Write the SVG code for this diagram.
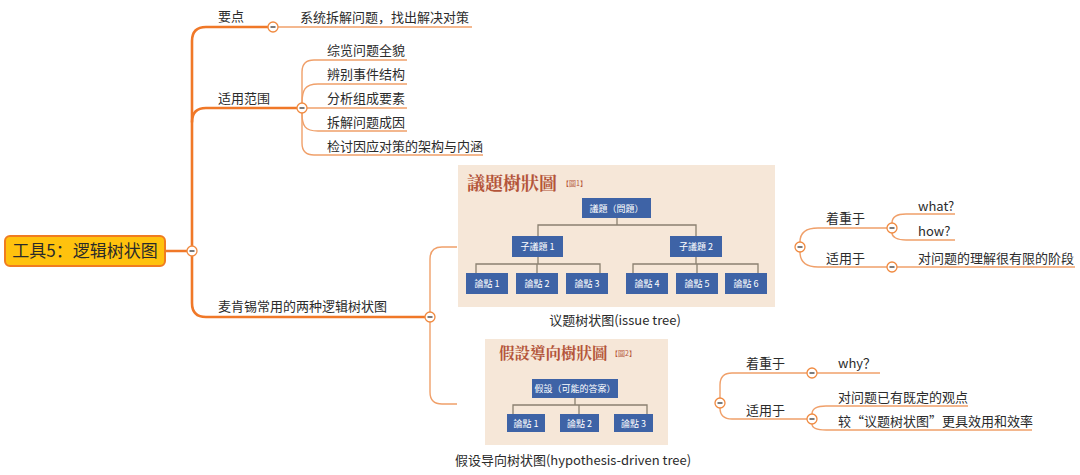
<svg xmlns="http://www.w3.org/2000/svg" width="1080" height="475" viewBox="0 0 1080 475">
<style>
.t{font-family:"Noto Sans CJK SC","Noto Sans",sans-serif;font-size:13px;fill:#2b2b2b}
.cap{font-family:"Noto Sans CJK SC","Noto Sans",sans-serif;font-size:13px;fill:#2b2b2b}
.thick{fill:none;stroke:#F07828;stroke-width:2.6;stroke-linecap:round}
.thin{fill:none;stroke:#F0A06A;stroke-width:1.4}
.col circle{fill:#fff;stroke:#F08A40;stroke-width:1.3}
.col line{stroke:#333;stroke-width:1.3}
.bx{fill:#3E63A6}
.bt{font-family:"Noto Sans CJK TC","Noto Sans",sans-serif;font-size:9px;fill:#fff;text-anchor:middle}
.tl{fill:none;stroke:#8A8070;stroke-width:1.3}
.ttl{font-family:"Noto Serif CJK TC","Noto Sans CJK TC",serif;font-weight:bold;fill:#B4553A}
.sm{font-family:"Noto Sans CJK TC",sans-serif;font-size:7px;fill:#B4553A}
</style>
<defs>
<g id="minus" class="col"><circle cx="0" cy="0" r="5"/><line x1="-2.5" y1="0" x2="2.5" y2="0"/></g>
</defs>
<rect width="1080" height="475" fill="#fff"/>

<g id="connectors">
<path class="thick" d="M165,251 H187"/>
<path class="thick" d="M192,246 V41 Q192,27 206,27 H268"/>
<path class="thick" d="M192,122 Q192,108 206,108 H297"/>
<path class="thick" d="M192,256 V303 Q192,317 206,317 H425"/>
<path class="thin" d="M278,27 H472"/>
<path class="thin" d="M302,103 V72 Q302,60 314,60 H407"/>
<path class="thin" d="M302,103 C302,90 305,84 318,84 H407"/>
<path class="thin" d="M307,108 H407"/>
<path class="thin" d="M302,113 C302,126 305,131 318,131 H407"/>
<path class="thin" d="M302,113 V143 Q302,155 314,155 H483"/>
<path class="thin" d="M430,312 V259 Q430,247 442,247 H457"/>
<path class="thin" d="M430,322 V392 Q430,404 442,404 H457"/>
<path class="thin" d="M800,242 C800,232 806,228 818,228 H887"/>
<path class="thin" d="M800,252 C800,262 806,267 818,267 H887"/>
<path class="thin" d="M892,223 C892,217 897,214 906,214 H955"/>
<path class="thin" d="M892,233 C892,237 897,240 906,240 H955"/>
<path class="thin" d="M897,267 H1075"/>
<path class="thin" d="M720,398 V385 Q720,373 732,373 H807"/>
<path class="thin" d="M720,408 Q720,419 732,419 H807"/>
<path class="thin" d="M817,373 H880"/>
<path class="thin" d="M812,414 C812,409 817,406 826,406 H968"/>
<path class="thin" d="M812,424 C812,428 817,430 826,430 H1032"/>
<use href="#minus" x="192" y="251"/>
<use href="#minus" x="273" y="27"/>
<use href="#minus" x="302" y="108"/>
<use href="#minus" x="430" y="317"/>
<use href="#minus" x="800" y="247"/>
<use href="#minus" x="892" y="228"/>
<use href="#minus" x="892" y="267"/>
<use href="#minus" x="720" y="403"/>
<use href="#minus" x="812" y="373"/>
<use href="#minus" x="812" y="419"/>
</g>

<g id="root">
<rect x="5" y="236" width="160" height="30" rx="5" fill="#FFC20E" stroke="#F07C20" stroke-width="2"/>
<text x="85" y="257" text-anchor="middle" font-family="'Noto Sans CJK SC',sans-serif" font-size="17" fill="#2a2a2a">工具5：逻辑树状图</text>
</g>

<g id="n-yaodian"><text class="t" x="218" y="21">要点</text></g>
<g id="n-yaodian-1"><text class="t" x="300" y="22">系统拆解问题，找出解决对策</text></g>
<g id="n-fanwei"><text class="t" x="218" y="103">适用范围</text></g>
<g id="n-fw1"><text class="t" x="327" y="55">综览问题全貌</text></g>
<g id="n-fw2"><text class="t" x="327" y="79">辨别事件结构</text></g>
<g id="n-fw3"><text class="t" x="327" y="103">分析组成要素</text></g>
<g id="n-fw4"><text class="t" x="327" y="127">拆解问题成因</text></g>
<g id="n-fw5"><text class="t" x="327" y="151">检讨因应对策的架构与内涵</text></g>
<g id="n-mck"><text class="t" x="218" y="311">麦肯锡常用的两种逻辑树状图</text></g>

<g id="n-issue-tree">
<rect x="458" y="165" width="317" height="142" fill="#F6E7D8"/>
<text class="ttl" x="467" y="190" font-size="18">議題樹狀圖</text>
<text class="sm" x="562" y="186">【圖1】</text>
<path class="tl" d="M617,218 V225 M538,236 V225 H696 V236 M538,257 V264 M476,273 V264 H600 V273 M537,264 V273 M696,257 V264 M633,273 V264 H758 V273 M697,264 V273"/>
<rect class="bx" x="582" y="198" width="69" height="20"/>
<text class="bt" x="616.5" y="211.5">議題（問題）</text>
<rect class="bx" x="512" y="236" width="51" height="21"/>
<text class="bt" x="537.5" y="250">子議題 1</text>
<rect class="bx" x="670" y="236" width="52" height="21"/>
<text class="bt" x="696" y="250">子議題 2</text>
<rect class="bx" x="466" y="273" width="42" height="21"/><text class="bt" x="487" y="287">論點 1</text>
<rect class="bx" x="516" y="273" width="42" height="21"/><text class="bt" x="537" y="287">論點 2</text>
<rect class="bx" x="566" y="273" width="42" height="21"/><text class="bt" x="587" y="287">論點 3</text>
<rect class="bx" x="626" y="273" width="42" height="21"/><text class="bt" x="647" y="287">論點 4</text>
<rect class="bx" x="676" y="273" width="42" height="21"/><text class="bt" x="697" y="287">論點 5</text>
<rect class="bx" x="725" y="273" width="42" height="21"/><text class="bt" x="746" y="287">論點 6</text>
<text class="cap" x="615" y="325" text-anchor="middle">议题树状图(issue tree)</text>
</g>

<g id="n-issue-focus"><text class="t" x="826" y="223">着重于</text></g>
<g id="n-what"><text class="t" x="918" y="211">what?</text></g>
<g id="n-how"><text class="t" x="918" y="236">how?</text></g>
<g id="n-issue-use"><text class="t" x="826" y="263">适用于</text></g>
<g id="n-issue-use-1"><text class="t" x="918" y="263">对问题的理解很有限的阶段</text></g>

<g id="n-hyp-tree">
<rect x="485" y="339" width="183" height="106" fill="#F6E7D8"/>
<text class="ttl" x="499" y="359" font-size="15.5">假設導向樹狀圖</text>
<text class="sm" x="611" y="356">【圖2】</text>
<path class="tl" d="M575,398 V405 M513,414 V405 H647 V414 M579,405 V414"/>
<rect class="bx" x="532" y="379" width="86" height="19"/>
<text class="bt" x="575" y="392">假設（可能的答案）</text>
<rect class="bx" x="507" y="414" width="38" height="18"/><text class="bt" x="526" y="426.5">論點 1</text>
<rect class="bx" x="560" y="414" width="39" height="18"/><text class="bt" x="579.5" y="426.5">論點 2</text>
<rect class="bx" x="614" y="414" width="39" height="18"/><text class="bt" x="633.5" y="426.5">論點 3</text>
<text class="cap" x="573" y="465" text-anchor="middle">假设导向树状图(hypothesis-driven tree)</text>
</g>

<g id="n-hyp-focus"><text class="t" x="746" y="368">着重于</text></g>
<g id="n-why"><text class="t" x="838" y="368">why？</text></g>
<g id="n-hyp-use"><text class="t" x="746" y="415">适用于</text></g>
<g id="n-hyp-use-1"><text class="t" x="838" y="402">对问题已有既定的观点</text></g>
<g id="n-hyp-use-2"><text class="t" x="838" y="426">较“议题树状图”更具效用和效率</text></g>
</svg>
